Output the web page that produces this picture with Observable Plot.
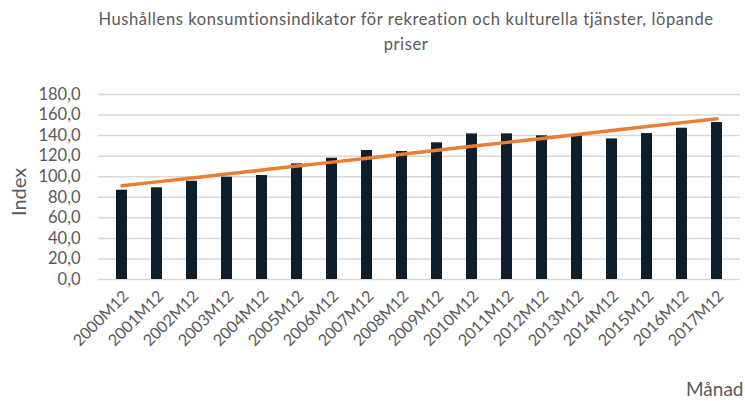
<!DOCTYPE html>
<html>
<head>
<meta charset="utf-8">
<script src="https://cdn.jsdelivr.net/npm/d3@7"></script>
<script src="https://cdn.jsdelivr.net/npm/@observablehq/plot@0.6"></script>
<style>
  html, body { margin: 0; padding: 0; background: #fff; }
  #wrap { width: 745px; height: 401px; position: relative; overflow: hidden; }
  #title { position: absolute; left: 56px; width: 700px; top: 7px; text-align: center;
    font-family: Lato, "Open Sans", sans-serif; font-size: 16.5px; letter-spacing: 0.6px; line-height: 25px; color: #595959; }
  #chart { position: absolute; left: 0; top: 62px; }
</style>
</head>
<body>
<div id="wrap">
  <div id="title">Hushållens konsumtionsindikator för rekreation och kulturella tjänster, löpande<br>priser</div>
  <div id="chart"></div>
</div>
<script>
const categories = ["2000M12","2001M12","2002M12","2003M12","2004M12","2005M12","2006M12","2007M12","2008M12","2009M12","2010M12","2011M12","2012M12","2013M12","2014M12","2015M12","2016M12","2017M12"];
const values = [86.9, 89.2, 95.6, 99.5, 101.2, 112.5, 118.0, 125.5, 124.5, 133.0, 141.7, 141.7, 139.8, 140.7, 136.8, 142.0, 147.2, 152.7];
const yTicks = [0, 20, 40, 60, 80, 100, 120, 140, 160, 180];

const data = categories.map((c, i) => ({cat: c, value: values[i], i}));

// Linear trendline (least squares) derived from the series
const mx = d3.mean(data, d => d.i), my = d3.mean(values);
const slope = d3.sum(data, d => (d.i - mx) * (d.value - my)) / d3.sum(data, d => (d.i - mx) ** 2);
const intercept = my - slope * mx;
const trend = data.map(d => ({cat: d.cat, value: intercept + slope * d.i}));

const fmt = v => v.toFixed(1).replace(".", ",");
const font = 'Lato, "Open Sans", sans-serif';

const chart = Plot.plot({
  width: 745,
  height: 339,
  marginLeft: 98,
  marginRight: 5,
  marginTop: 32,
  marginBottom: 122,
  style: {fontFamily: font, color: "#595959", background: "transparent"},
  x: {domain: categories, paddingInner: 0.69, paddingOuter: 0.345},
  y: {domain: [0, 180]},
  marks: [
    Plot.ruleY(yTicks, {stroke: "#d9d9d9", strokeWidth: 1.5}),
    Plot.barY(data, {x: "cat", y: "value", fill: "#0e1f2b"}),
    Plot.line(trend, {x: "cat", y: "value", stroke: "#ed7d31", strokeWidth: 3.5, strokeLinecap: "round"}),
    Plot.axisY({ticks: yTicks, tickFormat: fmt, tickSize: 0, tickPadding: 18, fontSize: 16.5, label: null, fill: "#595959"}),
    Plot.axisX({tickRotate: -45, tickSize: 0, tickPadding: 14, dx: 4, fontSize: 16, label: null, fill: "#595959"}),
    Plot.text(["Index"], {frameAnchor: "left", dx: -79, dy: 29, rotate: -90, fontSize: 20, fill: "#595959"}),
    Plot.text(["Månad"], {frameAnchor: "bottom-right", dx: 3, dy: 116, textAnchor: "end", fontSize: 19, fill: "#595959"})
  ]
});
document.getElementById("chart").appendChild(chart);
</script>
</body>
</html>
